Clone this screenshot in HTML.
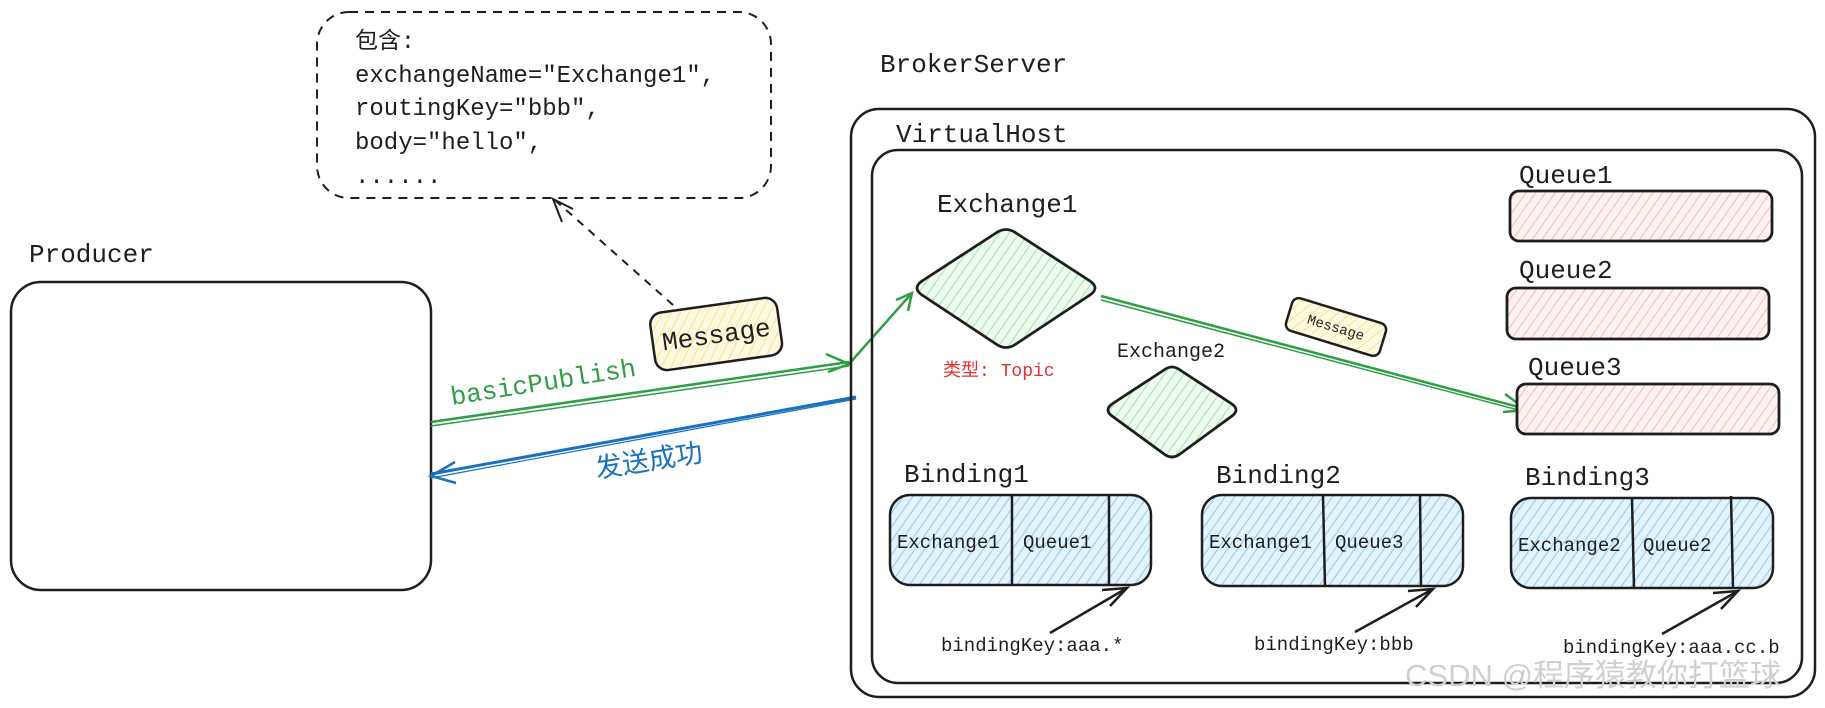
<!DOCTYPE html>
<html><head><meta charset="utf-8"><style>
html,body{margin:0;padding:0;background:#fff;width:1825px;height:708px;overflow:hidden}
svg{display:block}
text{font-family:"Liberation Mono","Noto Sans CJK SC",monospace;fill:#1e1e1e}
</style></head><body>
<svg width="1825" height="708" viewBox="0 0 1825 708" xmlns="http://www.w3.org/2000/svg">
<defs>
<pattern id="hb" width="8" height="8" patternUnits="userSpaceOnUse" patternTransform="rotate(35)"><rect width="8" height="8" fill="#e3f2fd"/><line x1="0" y1="0" x2="0" y2="8" stroke="#8ecbf7" stroke-width="2"/></pattern>
<pattern id="hr" width="8" height="8" patternUnits="userSpaceOnUse" patternTransform="rotate(35)"><rect width="8" height="8" fill="#fff3f3"/><line x1="0" y1="0" x2="0" y2="8" stroke="#ffb8b8" stroke-width="2"/></pattern>
<pattern id="hg" width="8" height="8" patternUnits="userSpaceOnUse" patternTransform="rotate(35)"><rect width="8" height="8" fill="#effbf1"/><line x1="0" y1="0" x2="0" y2="8" stroke="#9be8a6" stroke-width="2"/></pattern>
<pattern id="hy" width="8" height="8" patternUnits="userSpaceOnUse" patternTransform="rotate(35)"><rect width="8" height="8" fill="#fff9e3"/><line x1="0" y1="0" x2="0" y2="8" stroke="#ffe380" stroke-width="2"/></pattern>
</defs>

<rect x="317" y="12" width="454" height="186" rx="32" fill="none" stroke="#1e1e1e" stroke-width="2" stroke-dasharray="9 7"/>
<text x="355" y="48" font-size="23">包含:</text>
<text x="355" y="82" font-size="24">exchangeName="Exchange1",</text>
<text x="355" y="115" font-size="24">routingKey="bbb",</text>
<text x="355" y="149" font-size="24">body="hello",</text>
<text x="355" y="183" font-size="24">......</text>

<line x1="673" y1="305" x2="556" y2="201" stroke="#1e1e1e" stroke-width="2" stroke-dasharray="8 7"/>
<polyline points="562,222 553,199 573,209" fill="none" stroke="#1e1e1e" stroke-width="2"/>

<text x="29" y="262" font-size="26">Producer</text>
<rect x="11" y="282" width="420" height="308" rx="30" fill="none" stroke="#1e1e1e" stroke-width="2.5"/>

<g transform="rotate(-8 716 333)"><rect x="652" y="305" width="128" height="58" rx="12" fill="url(#hy)" stroke="#1e1e1e" stroke-width="2.5"/>
<text x="716" y="343" font-size="26" text-anchor="middle">Message</text></g>

<line x1="431" y1="422" x2="849" y2="362" stroke="#2f9e44" stroke-width="2.5"/>
<line x1="431" y1="426" x2="849" y2="366" stroke="#2f9e44" stroke-width="1.5"/>
<polyline points="826,354 849,364 828,372" fill="none" stroke="#2f9e44" stroke-width="2.5"/>
<line x1="849" y1="364" x2="912" y2="293" stroke="#2f9e44" stroke-width="2.5"/>
<polyline points="896,300 912,293 908,311" fill="none" stroke="#2f9e44" stroke-width="2.5"/>
<text x="452" y="405" font-size="26" style="fill:#2f9e44" transform="rotate(-9 452 405)">basicPublish</text>

<line x1="856" y1="397" x2="431" y2="474" stroke="#1971c2" stroke-width="3"/>
<line x1="856" y1="399" x2="431" y2="478" stroke="#1971c2" stroke-width="1.2"/>
<polyline points="455,462 431,476 456,483" fill="none" stroke="#1971c2" stroke-width="2.5"/>
<text x="597" y="478" font-size="27" style="fill:#1971c2" transform="rotate(-9 597 478)">发送成功</text>

<text x="880" y="72" font-size="26">BrokerServer</text>
<rect x="851" y="109" width="964" height="588" rx="28" fill="none" stroke="#1e1e1e" stroke-width="2.5"/>
<text x="896" y="142" font-size="26">VirtualHost</text>
<rect x="872" y="150" width="930" height="533" rx="26" fill="none" stroke="#1e1e1e" stroke-width="2.5"/>

<text x="937" y="212" font-size="26">Exchange1</text>
<path d="M996,233 Q1006,226 1016,233 L1090,281 Q1100,288 1090,295 L1016,344 Q1006,351 996,344 L922,295 Q912,288 922,281 Z" fill="url(#hg)" stroke="#1e1e1e" stroke-width="2.8" stroke-linejoin="round"/>
<text x="943" y="376" font-size="18" style="fill:#e03131">类型: Topic</text>

<text x="1117" y="357" font-size="20">Exchange2</text>
<path d="M1164,370 Q1172,364 1180,370 L1232,404 Q1240,410 1232,416 L1180,454 Q1172,460 1164,454 L1112,416 Q1104,410 1112,404 Z" fill="url(#hg)" stroke="#1e1e1e" stroke-width="2.8" stroke-linejoin="round"/>

<line x1="1101" y1="296" x2="1526" y2="409" stroke="#2f9e44" stroke-width="2.5"/>
<line x1="1101" y1="300" x2="1526" y2="412" stroke="#2f9e44" stroke-width="1.5"/>
<polyline points="1505,394 1527,410 1503,412" fill="none" stroke="#2f9e44" stroke-width="2.5"/>

<g transform="rotate(17 1336 327)"><rect x="1287" y="310" width="98" height="34" rx="7" fill="url(#hy)" stroke="#1e1e1e" stroke-width="2.5"/>
<text x="1336" y="332" font-size="14" text-anchor="middle">Message</text></g>

<text x="1519" y="183" font-size="26">Queue1</text>
<rect x="1510" y="191" width="262" height="50" rx="9" fill="url(#hr)" stroke="#1e1e1e" stroke-width="2.8"/>
<text x="1519" y="278" font-size="26">Queue2</text>
<rect x="1507" y="288" width="262" height="51" rx="9" fill="url(#hr)" stroke="#1e1e1e" stroke-width="2.8"/>
<text x="1528" y="375" font-size="26">Queue3</text>
<rect x="1517" y="384" width="262" height="50" rx="9" fill="url(#hr)" stroke="#1e1e1e" stroke-width="2.8"/>

<text x="904" y="482" font-size="26">Binding1</text>
<rect x="890" y="495" width="261" height="90" rx="20" fill="url(#hb)" stroke="#1e1e1e" stroke-width="2.5"/>
<line x1="1012" y1="495" x2="1012" y2="585" stroke="#1e1e1e" stroke-width="2.5"/>
<line x1="1109" y1="495" x2="1109" y2="585" stroke="#1e1e1e" stroke-width="2.5"/>
<text x="897" y="548" font-size="19">Exchange1</text>
<text x="1023" y="548" font-size="19">Queue1</text>

<text x="1216" y="483" font-size="26">Binding2</text>
<rect x="1202" y="495" width="261" height="91" rx="20" fill="url(#hb)" stroke="#1e1e1e" stroke-width="2.5"/>
<line x1="1323" y1="495" x2="1325" y2="586" stroke="#1e1e1e" stroke-width="2.5"/>
<line x1="1420" y1="495" x2="1421" y2="586" stroke="#1e1e1e" stroke-width="2.5"/>
<text x="1209" y="548" font-size="19">Exchange1</text>
<text x="1335" y="548" font-size="19">Queue3</text>

<text x="1525" y="485" font-size="26">Binding3</text>
<rect x="1511" y="498" width="262" height="90" rx="20" fill="url(#hb)" stroke="#1e1e1e" stroke-width="2.5"/>
<line x1="1632" y1="498" x2="1634" y2="588" stroke="#1e1e1e" stroke-width="2.5"/>
<line x1="1731" y1="496" x2="1733" y2="588" stroke="#1e1e1e" stroke-width="2.5"/>
<text x="1518" y="551" font-size="19">Exchange2</text>
<text x="1643" y="551" font-size="19">Queue2</text>

<g stroke="#1e1e1e" stroke-width="2.5" fill="none">
<line x1="1050" y1="633" x2="1127" y2="588"/><polyline points="1102,590 1127,588 1110,606"/>
<line x1="1355" y1="632" x2="1433" y2="589"/><polyline points="1408,591 1433,589 1416,607"/>
<line x1="1662" y1="634" x2="1738" y2="591"/><polyline points="1713,593 1738,591 1721,609"/>
</g>
<text x="941" y="651" font-size="19">bindingKey:aaa.*</text>
<text x="1254" y="650" font-size="19">bindingKey:bbb</text>
<text x="1563" y="653" font-size="19">bindingKey:aaa.cc.b</text>

<text x="1405" y="686" font-size="31" style="fill:#d0d0d0;font-family:'Liberation Sans','Noto Sans CJK SC',sans-serif">CSDN @程序猿教你打篮球</text>
</svg>
</body></html>
